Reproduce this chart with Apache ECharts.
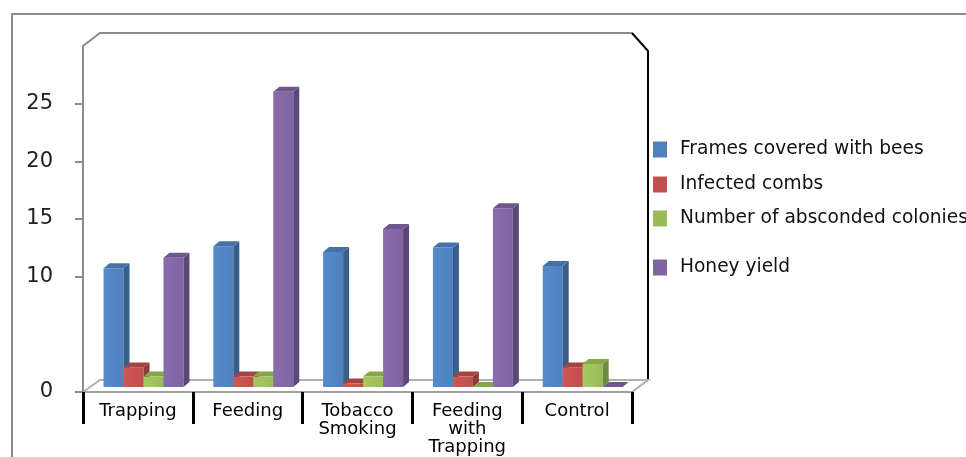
<!DOCTYPE html>
<html lang="en" style="height: 100%">
<head>
  <meta charset="utf-8">
</head>
<body style="height: 100%; margin: 0; background: #fff">
  <div id="container" style="width: 966px; height: 457px"></div>

  <script type="text/javascript" src="https://cdn.jsdelivr.net/npm/echarts@6/dist/echarts.min.js"></script>

  <script type="text/javascript">
    // data
    var categories = ['Trapping', 'Feeding', 'Tobacco\nSmoking', 'Feeding\nwith\nTrapping', 'Control'];
    var framesCovered = [10.3, 12.2, 11.7, 12.1, 10.5];
    var infectedCombs = [1.7, 0.9, 0.3, 0.9, 1.7];
    var abscondedColonies = [0.9, 0.9, 0.9, 0, 2.0];
    var honeyYield = [11.2, 25.6, 13.7, 15.5, 0];
    var yLabels = [0, 10, 15, 20, 25];

    var seriesNames = ['Frames covered with bees', 'Infected combs', 'Number of absconded colonies', 'Honey yield'];
    var seriesValues = [framesCovered, infectedCombs, abscondedColonies, honeyYield];
    // front, side, top faces
    var faceColors = [
      ['#4F81BD', '#385E8B', '#4472A8'],
      ['#C0504D', '#8E3A38', '#A64441'],
      ['#9BBB59', '#718A40', '#87A64C'],
      ['#8064A2', '#5C4878', '#6F5790']
    ];
    var legendTops = [140, 175, 209, 258];

    // plot box (front edge) and depth of the 3d frame
    var L = 83, R = 632, T = 46, B = 392, DX = 17, DY = 13;

    var dom = document.getElementById('container');
    var myChart = echarts.init(dom, null, { renderer: 'canvas' });

    function barRenderer(si) {
      return function (params, api) {
        var ci = api.value(0);
        var v = api.value(1);
        var band = api.size([1, 0])[0];
        var w = band * 0.182;
        var d = 6, dh = 5;
        var c = api.coord([ci, 0]);
        var t = api.coord([ci, v]);
        var x0 = c[0] - band * 0.313 + si * w;
        var yb = c[1] - 5;
        var yt = t[1] - 5;
        var col = faceColors[si];
        return {
          type: 'group',
          children: [
            {
              type: 'rect',
              shape: { x: x0, y: yt, width: w, height: yb - yt },
              style: {
                fill: new echarts.graphic.LinearGradient(0, 0, 1, 0, [
                  { offset: 0, color: echarts.color.lift(col[0], -0.08) },
                  { offset: 1, color: col[0] }
                ])
              }
            },
            {
              type: 'polygon',
              shape: { points: [[x0 + w, yt], [x0 + w + d, yt - dh], [x0 + w + d, yb - dh], [x0 + w, yb]] },
              style: { fill: col[1] }
            },
            {
              type: 'polygon',
              shape: { points: [[x0, yt], [x0 + d, yt - dh], [x0 + w + d, yt - dh], [x0 + w, yt]] },
              style: { fill: col[2] }
            }
          ]
        };
      };
    }

    var series = [];
    var legends = [];
    for (var s = 0; s < 4; s++) {
      series.push({
        name: seriesNames[s],
        type: 'custom',
        renderItem: barRenderer(s),
        encode: { x: 0, y: 1 },
        itemStyle: { color: faceColors[s][0] },
        data: seriesValues[s].map(function (v, i) { return [i, v]; }),
        z: 2 + s
      });
      legends.push({
        data: [seriesNames[s]],
        left: 653,
        top: legendTops[s],
        padding: 0,
        icon: 'rect',
        itemWidth: 14,
        itemHeight: 16,
        textStyle: { fontFamily: 'DejaVu Sans', fontSize: 18.6, color: '#111', padding: [0, 0, 0, 8] }
      });
    }

    var grey = '#8c8c8c';
    var option = {
      backgroundColor: '#fff',
      animation: false,
      legend: legends,
      grid: { left: L, top: T, width: R - L, height: B - T },
      xAxis: {
        type: 'category',
        data: categories,
        axisLine: { lineStyle: { color: '#a0a0a0', width: 2 } },
        axisTick: { show: true, interval: 0, length: 32, lineStyle: { color: '#000', width: 3 } },
        axisLabel: {
          interval: 0,
          margin: 10,
          fontFamily: 'DejaVu Sans',
          fontSize: 18,
          lineHeight: 18,
          color: '#000'
        },
        splitLine: { show: false }
      },
      yAxis: {
        type: 'value',
        min: 0,
        max: 30,
        interval: 5,
        axisLine: { show: true, lineStyle: { color: grey, width: 2 } },
        axisTick: { show: true, customValues: yLabels, length: 8, lineStyle: { color: grey, width: 2 } },
        axisLabel: {
          customValues: yLabels,
          margin: 30,
          fontFamily: 'DejaVu Sans',
          fontSize: 21,
          color: '#222'
        },
        splitLine: { show: false }
      },
      graphic: [
        // outer chart border
        {
          type: 'rect', z: -10, silent: true,
          shape: { x: 12, y: 14, width: 1000, height: 500 },
          style: { fill: 'none', stroke: grey, lineWidth: 2 }
        },
        // 3d frame: top and back floor
        {
          type: 'polyline', z: -5, silent: true,
          shape: { points: [[L, T], [L + DX, T - DY], [R, T - DY]] },
          style: { stroke: grey, lineWidth: 2, fill: 'none' }
        },
        {
          type: 'polyline', z: -5, silent: true,
          shape: { points: [[R, T - DY], [R + DX - 1, T + 5], [R + DX - 1, B - DY + 1]] },
          style: { stroke: '#000', lineWidth: 2, fill: 'none' }
        },
        {
          type: 'polyline', z: -5, silent: true,
          shape: { points: [[L, B], [L + DX, B - DY + 1], [R + DX - 1, B - DY + 1], [R, B]] },
          style: { stroke: '#b0b0b0', lineWidth: 2, fill: 'none' }
        }
      ],
      series: series
    };

    myChart.setOption(option);
    window.addEventListener('resize', myChart.resize);
  </script>
</body>
</html>
